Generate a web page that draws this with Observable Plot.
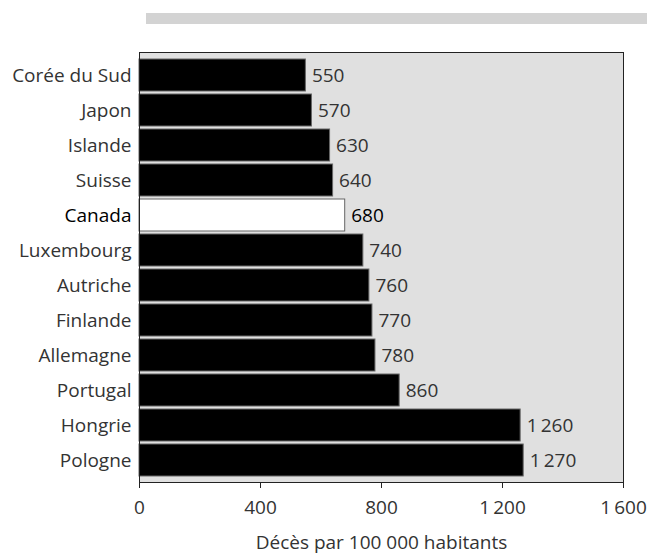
<!DOCTYPE html>
<html>
<head>
<meta charset="utf-8">
<script src="https://cdn.jsdelivr.net/npm/d3@7"></script>
<script src="https://cdn.jsdelivr.net/npm/@observablehq/plot@0.6"></script>
<style>
  html, body { margin: 0; padding: 0; background: #fff; }
  #wrap { position: relative; width: 647px; height: 554px; font-family: "Open Sans", "Liberation Sans", Arial, sans-serif; }
  #band { position: absolute; left: 146px; top: 13px; width: 501px; height: 11px; background: #d3d3d3; }
</style>
</head>
<body>
<div id="wrap"><div id="band"></div></div>
<script>
// Death rates per 100 000 inhabitants, by country
const countries = ["Corée du Sud", "Japon", "Islande", "Suisse", "Canada", "Luxembourg",
  "Autriche", "Finlande", "Allemagne", "Portugal", "Hongrie", "Pologne"];
const rates = [550, 570, 630, 640, 680, 740, 760, 770, 780, 860, 1260, 1270];
const xTicks = [0, 400, 800, 1200, 1600];
const highlight = "Canada";

const rows = countries.map((c, i) => ({country: c, rate: rates[i]}));
const fmt = v => d3.format(",")(v).replace(/,/g, "\u2009");
const font = "Open Sans, Liberation Sans, Arial, sans-serif";

const chart = Plot.plot({
  width: 647,
  height: 554,
  marginLeft: 139,
  marginRight: 24,
  marginTop: 52,
  marginBottom: 72,
  style: {fontFamily: font, fontSize: "19px", background: "transparent"},
  x: {domain: [0, 1600], ticks: xTicks, tickFormat: fmt},
  y: {domain: countries, padding: 0.1},
  marks: [
    Plot.frame({fill: "#e0e0e0", stroke: "#222", strokeWidth: 1}),
    Plot.barX(rows, {
      y: "country", x: "rate",
      fill: d => d.country === highlight ? "#fff" : "#000",
      stroke: "#666", strokeWidth: 1
    }),
    Plot.text(rows, {
      y: "country", x: "rate", text: d => fmt(d.rate),
      textAnchor: "start", dx: 6, dy: 0, fontFamily: font,
      fill: d => d.country === highlight ? "#000" : "#333", fontSize: 19
    }),
    Plot.text(rows, {
      y: "country", x: 0, text: "country",
      textAnchor: "end", dx: -8, dy: 0, fontFamily: font,
      fill: d => d.country === highlight ? "#000" : "#333", fontSize: 19
    }),
    Plot.ruleX([0], {stroke: "#222"}),
    Plot.axisX({
      ticks: xTicks, tickFormat: fmt, tickSize: 6, tickPadding: 12,
      stroke: "#222", color: "#333", fontSize: 19, fontFamily: font,
      label: "Décès par 100 000 habitants", labelAnchor: "center", labelArrow: "none", labelOffset: 66
    }),
    Plot.axisY({ticks: [], label: null})
  ]
});
document.getElementById("wrap").appendChild(chart);
</script>
</body>
</html>
